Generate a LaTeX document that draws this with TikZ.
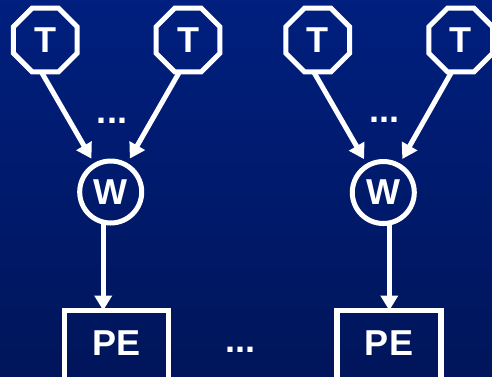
\documentclass[tikz,border=0pt]{standalone}
\usepackage{fontspec}
\setmainfont{Liberation Sans}
\usetikzlibrary{shapes.geometric,arrows.meta,calc}
\definecolor{bgtop}{RGB}{0,31,126}
\definecolor{bgbot}{RGB}{0,21,90}
\tikzset{
  lbl/.style={text=white,font=\fontsize{36}{40}\selectfont\bfseries},
  task/.style={lbl,draw=white,line width=5pt,regular polygon,
    regular polygon sides=8,minimum size=69pt,inner sep=0pt,outer sep=0pt},
  worker/.style={lbl,draw=white,line width=5pt,circle,minimum size=62pt,
    inner sep=0pt,outer sep=7.5pt},
  pebox/.style={lbl,draw=white,line width=5.5pt,rectangle,anchor=north,
    minimum width=104pt,minimum height=69pt,inner sep=0pt,outer sep=0pt,
    text depth=4pt},
  dots/.style={lbl,anchor=base,inner sep=0pt},
  arr/.style={draw=white,line width=5pt,-{Triangle[width=17pt,length=15pt]}}
}
\begin{document}
\begin{tikzpicture}[x=1pt,y=-1pt]
  \path[use as bounding box] (0,0) rectangle (492,376);
  \clip (0,0) rectangle (492,376);
  \shade[top color=bgtop,bottom color=bgbot] (0,0) rectangle (492,376);

  % task nodes
  \node[task] (t1) at (45.3,40) {T};
  \node[task] (t2) at (188,40) {T};
  \node[task] (t3) at (317.7,40) {T};
  \node[task] (t4) at (460.7,40) {T};

  % workers
  \node[worker] (w1) at (110.7,192) {W};
  \node[worker] (w2) at (383.3,192.5) {W};

  % processing elements
  \node[pebox] (pe1) at (116.7,310.5) {PE};
  \node[pebox] (pe2) at (389,310.5) {PE};

  % ellipses
  \node[dots] (d1) at (112,123) {...};
  \node[dots] (d2) at (384.5,122) {...};
  \node[dots] (d3) at (240,352) {...};

  % task -> worker
  \draw[arr] ($(t1.south)+(-4,0)$) -- (w1);
  \draw[arr] ($(t2.south)+(-8.5,0)$) -- (w1);
  \draw[arr] ($(t3.south)+(-4,0)$) -- (w2);
  \draw[arr] ($(t4.south)+(-9,0)$) -- (w2);

  % worker -> processing element
  \coordinate (w1o) at ($(w1.center)+(-7.5,31)$);
  \coordinate (w2o) at ($(w2.center)+(6,31)$);
  \draw[arr] (w1o) -- (w1o |- pe1.north);
  \draw[arr] (w2o) -- (w2o |- pe2.north);
\end{tikzpicture}
\end{document}
